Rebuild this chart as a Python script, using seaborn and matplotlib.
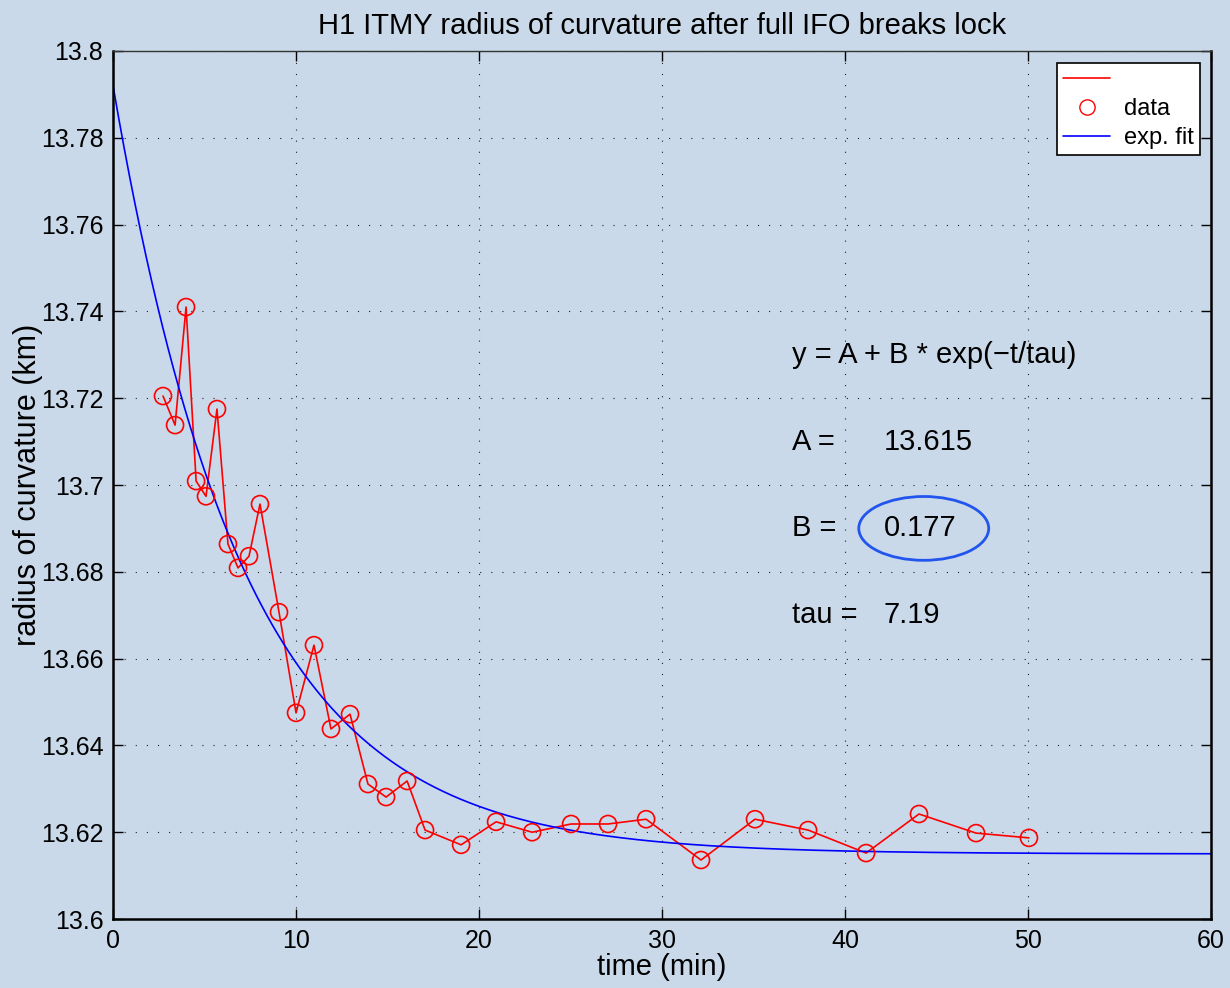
import numpy as np
import pandas as pd
import seaborn as sns
import matplotlib.pyplot as plt
from matplotlib.patches import Ellipse
from matplotlib.lines import Line2D

# measured radius of curvature (km) vs time (min)
t_min = [2.73, 3.39, 3.99, 4.54, 5.08, 5.68, 6.28, 6.83, 7.43, 8.03,
         9.07, 10.0, 10.98, 11.91, 12.95, 13.93, 14.92, 16.07, 17.05, 19.02,
         20.93, 22.9, 25.03, 27.05, 29.13, 32.13, 35.08, 37.98, 41.15, 44.04,
         47.16, 50.05]
roc_km = [13.7205, 13.7138, 13.7410, 13.7009, 13.6974, 13.7175, 13.6864, 13.6809,
          13.6836, 13.6956, 13.6707, 13.6475, 13.6631, 13.6438, 13.6472, 13.6311,
          13.6281, 13.6318, 13.6205, 13.6171, 13.6224, 13.6200, 13.6219, 13.6219,
          13.6230, 13.6136, 13.6230, 13.6205, 13.6152, 13.6242, 13.6198, 13.6187]

# fit parameters
A = 13.615
B = 0.177
tau = 7.19

bg = "#C9D9E9"
sns.set_style("ticks")
plt.rcParams["font.family"] = ["Liberation Sans", "DejaVu Sans"]
plt.rcParams["text.color"] = "black"
plt.rcParams["axes.labelcolor"] = "black"

fig = plt.figure(figsize=(12.3, 9.88), dpi=100, facecolor=bg)
ax = fig.add_axes([0.0919, 0.0698, 0.8927, 0.8786])
ax.set_facecolor(bg)

df = pd.DataFrame({"t": t_min, "r": roc_km})
t_fit = np.linspace(0, 60, 600)
fit = pd.DataFrame({"t": t_fit, "r": A + B * np.exp(-t_fit / tau)})

sns.lineplot(data=df, x="t", y="r", color="red", lw=1.2, sort=False,
             estimator=None, ax=ax)
sns.scatterplot(data=df, x="t", y="r", marker="o", s=150, facecolor="none",
                edgecolor="red", linewidth=1.2, ax=ax, zorder=3)
sns.lineplot(data=fit, x="t", y="r", color="blue", lw=1.2, ax=ax)

ax.set_xlim(0, 60)
ax.set_ylim(13.6, 13.8)
ax.set_xticks(np.arange(0, 61, 10))
yt = np.round(np.arange(13.6, 13.8001, 0.02), 2)
ax.set_yticks(yt)
ax.set_yticklabels(["%g" % v for v in yt])
ax.tick_params(direction="in", length=7, width=1, top=True, right=True,
               labelsize=18, colors="black", pad=7)
ax.grid(True, color="#222222", lw=0.8, linestyle=(0, (1, 9)))
for side in ["left", "bottom", "right"]:
    ax.spines[side].set_linewidth(1.8)
    ax.spines[side].set_color("black")
ax.spines["top"].set_linewidth(1.0)
ax.spines["top"].set_color("#333333")

ax.set_title("H1 ITMY radius of curvature after full IFO breaks lock",
             fontsize=21, pad=12, color="black")
ax.set_xlabel("time (min)", fontsize=21, labelpad=0)
ax.set_ylabel("radius of curvature (km)", fontsize=22, labelpad=-2)

# fit text
fs = 21
ax.text(37.1, 13.730, "y = A + B * exp(\u2212t/tau)", fontsize=fs, va="center")
ax.text(37.1, 13.710, "A =", fontsize=fs, va="center")
ax.text(42.1, 13.710, "13.615", fontsize=fs, va="center")
ax.text(37.1, 13.690, "B =", fontsize=fs, va="center")
ax.text(42.1, 13.690, "0.177", fontsize=fs, va="center")
ax.text(37.1, 13.670, "tau =", fontsize=fs, va="center")
ax.text(42.1, 13.670, "7.19", fontsize=fs, va="center")
ax.add_patch(Ellipse((44.3, 13.690), 7.1, 0.0147, fill=False,
                     edgecolor="#2255EE", lw=2))

handles = [Line2D([], [], color="red", lw=1.2),
           Line2D([], [], color="red", marker="o", markersize=11,
                  markerfacecolor="none", linestyle="none"),
           Line2D([], [], color="blue", lw=1.2)]
leg = ax.legend(handles, ["", "data", "exp. fit"], loc="upper right",
                fontsize=17, frameon=True, fancybox=False, framealpha=1,
                borderpad=0.25, labelspacing=0.3, handlelength=2.0,
                handletextpad=0.6, borderaxespad=0,
                bbox_to_anchor=(0.990, 0.986))
leg.get_frame().set_edgecolor("black")
leg.get_frame().set_linewidth(1.2)

fig.savefig("out.png", dpi=100, facecolor=bg)
